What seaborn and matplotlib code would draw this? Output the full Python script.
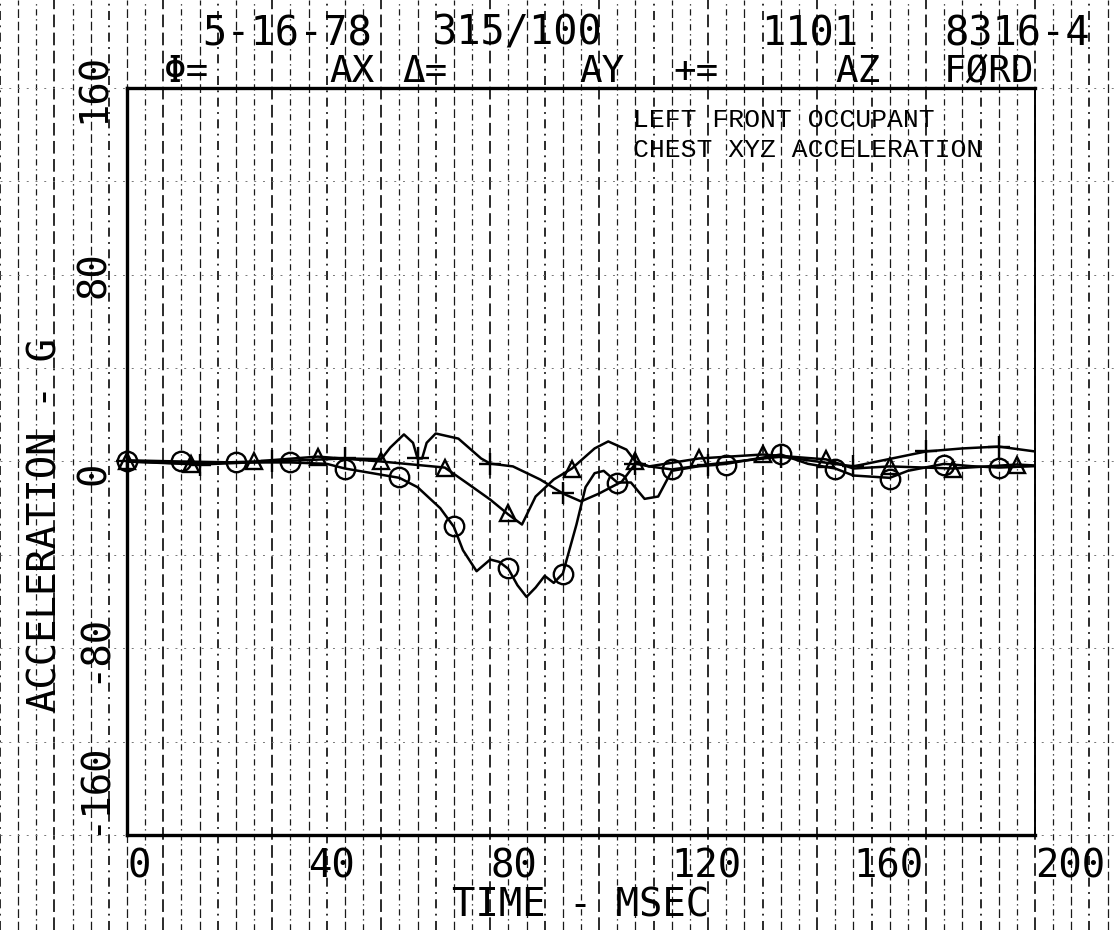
import numpy as np
import matplotlib
matplotlib.use("Agg")
import matplotlib.pyplot as plt
import matplotlib.transforms as mtransforms
import seaborn as sns

# curves (time in msec, acceleration in G)
ax_t = [0, 12, 24, 36, 44, 48, 54, 60, 64, 69, 72, 74, 77, 80, 82, 84, 86, 88, 90, 92,
        94, 96, 99, 101, 103, 105, 108, 111, 114, 117, 120, 126, 132, 138, 144, 150, 156, 160, 168, 172,
        180, 186, 192, 200]
ax_g = [0.5, 0, -0.4, -0.4, -1, -3, -5, -7, -11, -20, -28, -38, -47, -42, -43, -46, -53, -58, -54, -49,
        -52, -48, -27, -11, -5, -4, -9, -9, -16, -15, -4, -2, -1, 1, 3, -1, -3, -6, -7, -4,
        -1, -2, -2.6, -2]
ay_t = [0, 14, 28, 42, 56, 70, 75, 80, 84, 87, 90, 94, 98, 103, 106, 110, 112, 115, 126, 140,
        154, 160, 168, 182, 196, 200]
ay_g = [0, -0.9, 0, 2.1, 0, -2.6, -9.4, -16.3, -22.7, -27, -15, -7.7, -3, 5.6, 8.6, 5.1, 0, -2.1, 1.3, 3,
        0.9, -3, -2.1, -3, -1.3, -1.7]
az_t = [0, 16, 32, 48, 56, 58, 61, 63, 64, 65, 66, 68, 73, 78, 80, 85, 91, 96, 100, 104,
        109, 112, 115, 120, 128, 144, 160, 176, 184, 192, 200]
az_g = [0, -1.3, 0, 1.3, 1, 6, 11.6, 8, 1.3, 1.3, 8, 12, 9.8, 1.3, -0.9, -2.1, -7.7, -13.7, -17.1, -13.7,
        -8.6, -0.9, -2.1, -3.4, -1.3, 2.1, -2.1, 4.3, 5.6, 6.4, 4.3]

# plotter symbols along each curve
ax_mt = [0, 12, 24, 36, 48, 60, 72, 84, 96, 108, 120, 132, 144, 156, 168, 180, 192]
ax_mg = [0, 0, -0.4, -0.4, -3, -6.8, -27.8, -45.8, -48, -9, -3.4, -1.3, 3, -3.4, -7.3, -1.3, -2.6]
ay_mt = [0, 14, 28, 42, 56, 70, 84, 98, 112, 126, 140, 154, 168, 182, 196]
ay_mg = [0, -0.9, 0, 2.1, 0, -2.6, -22.2, -3, 0, 1.3, 3, 0.9, -2.1, -3, -1.3]
az_mt = [0, 16, 32, 48, 64, 80, 96, 112, 128, 144, 160, 176, 192]
az_mg = [0, -1.3, 0, 1.3, 1.3, -0.9, -13.7, -0.9, -1.3, 2.1, -2.1, 4.3, 6.4]

x_ticks = [0, 40, 80, 120, 160, 200]
y_ticks = [-160, -80, 0, 80, 160]

sns.set_style("white")
plt.rcParams["font.family"] = ["DejaVu Sans Mono", "DejaVu Sans"]
plt.rcParams["text.color"] = "black"
plt.rcParams["xtick.color"] = "black"
plt.rcParams["ytick.color"] = "black"

W, H = 1118, 930
fig = plt.figure(figsize=(W / 100, H / 100), dpi=100)
ax = fig.add_axes([127 / W, 1 - 835 / H, 908 / W, 747 / H])
ax.set_xlim(0, 200)
ax.set_ylim(-160, 160)

# background paper grid that runs across the whole sheet
vt = mtransforms.blended_transform_factory(ax.transData, fig.transFigure)
ht = mtransforms.blended_transform_factory(fig.transFigure, ax.transData)
for i, xv in enumerate(np.arange(-28, 220, 4)):
    ls = (0, (7, 3)) if i % 2 else (0, (5, 3, 1, 3))
    ax.plot([xv, xv], [0, 1], transform=vt, clip_on=False, color="#1a1a1a",
            lw=0.9 if i % 3 else 1.3, ls=ls, zorder=0)
for yv in np.arange(-160, 161, 40):
    ax.plot([0, 1], [yv, yv], transform=ht, clip_on=False, color="#777777",
            lw=0.7, ls=(0, (2, 7)), zorder=0)

lw = 1.8
sns.lineplot(x=ax_t, y=ax_g, ax=ax, color="black", lw=lw, estimator=None, sort=False)
sns.lineplot(x=ay_t, y=ay_g, ax=ax, color="black", lw=lw, estimator=None, sort=False)
sns.lineplot(x=az_t, y=az_g, ax=ax, color="black", lw=lw, estimator=None, sort=False)
ax.plot(ax_mt, ax_mg, ls="none", marker="o", ms=14, mfc="none", mec="black", mew=1.7, clip_on=False)
ax.plot(ay_mt, ay_mg, ls="none", marker="^", ms=12, mfc="none", mec="black", mew=1.7, clip_on=False)
ax.plot(az_mt, az_mg, ls="none", marker="+", ms=16, mec="black", mew=1.7, clip_on=False)

for side in ["left", "bottom", "top"]:
    ax.spines[side].set_linewidth(2.4)
    ax.spines[side].set_color("black")
ax.spines["right"].set_linewidth(1.4)
ax.spines["right"].set_color("black")

ax.set_xticks(x_ticks)
ax.set_xticklabels([str(v) for v in x_ticks], fontsize=28, ha="left")
ax.set_yticks(y_ticks)
ylabs = ax.set_yticklabels([str(v) for v in y_ticks], fontsize=28, rotation=90, va="center")
ylabs[0].set_va("bottom")
ylabs[2].set_va("top")
ax.tick_params(axis="both", direction="inout", length=10, width=1.6, color="black")
ax.tick_params(axis="x", pad=4)
ax.tick_params(axis="y", pad=5)
ax.set_xlabel("")
ax.set_ylabel("")

fig.text(581 / W, 1 - 905 / H, "TIME - MSEC", fontsize=28, ha="center", va="center")
fig.text(46 / W, 1 - 525 / H, "ACCELERATION - G", fontsize=28, rotation=90,
         ha="center", va="center")

# plotter header
row1 = 1 - 34 / H
row2 = 1 - 72 / H
for x0, s in [(202, "5-16-78"), (432, "315/100"), (761, "1101"), (944, "8316-4")]:
    fig.text(x0 / W, row1, s, fontsize=29, ha="left", va="center")
for x0, s in [(164, "Φ="), (329, "AX"), (402, "Δ="), (579, "AY"), (673, "+="),
              (835, "AZ"), (944, "FØRD")]:
    fig.text(x0 / W, row2, s, fontsize=27, ha="left", va="center")

fig.text(633 / W, 1 - 120 / H, "LEFT FRONT OCCUPANT", fontsize=19,
         family=["Liberation Mono", "DejaVu Sans Mono"], ha="left", va="center")
fig.text(633 / W, 1 - 150 / H, "CHEST XYZ ACCELERATION", fontsize=19,
         family=["Liberation Mono", "DejaVu Sans Mono"], ha="left", va="center")

fig.savefig("out.png", dpi=100)
